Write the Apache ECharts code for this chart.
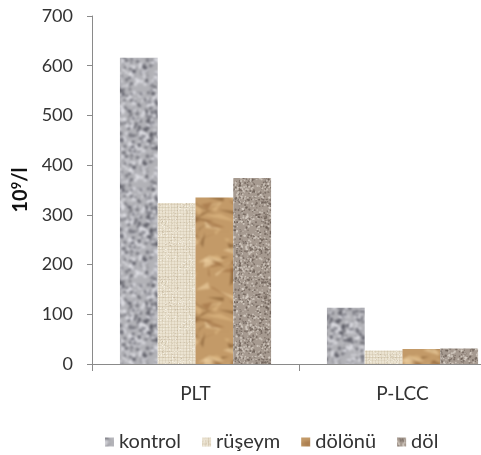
<!DOCTYPE html>
<html>
<head>
<meta charset="utf-8">
<script src="https://cdn.jsdelivr.net/npm/echarts@6/dist/echarts.min.js"></script>
<style>
html,body{margin:0;padding:0;background:#fff;}
#chart{width:481px;height:455px;}
</style>
</head>
<body>
<div id="chart"></div>
<script>
// ---- data ----
const categories = ['PLT', 'P-LCC'];
const seriesNames = ['kontrol', 'rüşeym', 'dölönü', 'döl'];
const kontrol = [616, 113];
const ruseym = [324, 27];
const dolonu = [335, 30];
const dol = [374, 31];
const yMin = 0, yMax = 700, yStep = 100;

// ---- textures (pure styling) ----
function rng(seed){return function(){seed|=0;seed=seed+0x6D2B79F5|0;let t=Math.imul(seed^seed>>>15,1|seed);t=t+Math.imul(t^t>>>7,61|t)^t;return((t^t>>>14)>>>0)/4294967296;};}
function finish(src, blur){
  const out=document.createElement('canvas');out.width=src.width;out.height=src.height;
  const o=out.getContext('2d');
  const big=document.createElement('canvas');big.width=src.width*3;big.height=src.height*3;
  const b=big.getContext('2d');
  for(let i=0;i<3;i++)for(let j=0;j<3;j++)b.drawImage(src,i*src.width,j*src.height);
  const big2=document.createElement('canvas');big2.width=big.width;big2.height=big.height;
  const b2=big2.getContext('2d');b2.filter='blur('+blur+'px)';b2.drawImage(big,0,0);
  o.drawImage(big2,-src.width,-src.height);
  return out;
}
function granite(size, base, dark, light, seed, n, rmin, rmax, blur){
  const c=document.createElement('canvas');c.width=c.height=size;const x=c.getContext('2d');
  x.fillStyle=base;x.fillRect(0,0,size,size);
  const r=rng(seed);
  for(let i=0;i<n;i++){
    const px=r()*size,py=r()*size,rad=r()*(rmax-rmin)+rmin;
    x.fillStyle=r()<0.5?dark:light;
    for(let dx=-1;dx<=1;dx++)for(let dy=-1;dy<=1;dy++){x.beginPath();x.arc(px+dx*size,py+dy*size,rad,0,Math.PI*2);x.fill();}
  }
  return finish(c, blur);
}
function burlap(){
  const size=60;const c=document.createElement('canvas');c.width=c.height=size;const x=c.getContext('2d');
  x.fillStyle='#ebe3d1';x.fillRect(0,0,size,size);
  const r=rng(7);
  for(let i=0;i<size;i+=3){x.fillStyle='rgba(175,158,125,'+(0.12+r()*0.15)+')';x.fillRect(i,0,1,size);x.fillRect(0,i,size,1);}
  for(let i=0;i<400;i++){x.fillStyle=r()<0.5?'rgba(252,249,240,0.6)':'rgba(165,145,115,0.25)';x.fillRect(Math.floor(r()*size),Math.floor(r()*size),1,1);}
  return finish(c,0.5);
}
function paper(){
  const size=100;const c=document.createElement('canvas');c.width=c.height=size;const x=c.getContext('2d');
  x.fillStyle='#c39a68';x.fillRect(0,0,size,size);
  const r=rng(11);
  const shades=['rgba(110,70,30,0.5)','rgba(240,212,165,0.6)','rgba(150,100,55,0.5)','rgba(225,190,135,0.55)','rgba(95,60,25,0.4)'];
  for(let i=0;i<110;i++){
    const cx=r()*size,cy=r()*size;x.fillStyle=shades[Math.floor(r()*shades.length)];
    const p1=[(r()-0.5)*36,(r()-0.5)*22],p2=[(r()-0.5)*36,(r()-0.5)*22];
    for(let dx=-1;dx<=1;dx++)for(let dy=-1;dy<=1;dy++){
      const ox=cx+dx*size,oy=cy+dy*size;
      x.beginPath();x.moveTo(ox,oy);x.lineTo(ox+p1[0],oy+p1[1]);x.lineTo(ox+p2[0],oy+p2[1]);x.closePath();x.fill();
    }
  }
  return finish(c,1.0);
}
const texKontrol = granite(96,'#b2b2b7','rgba(85,85,95,0.6)','rgba(228,228,233,0.7)',3,900,0.8,2.2,0.8);
const texRuseym = burlap();
const texDolonu = paper();
const texDol = granite(80,'#a69a90','rgba(105,92,84,0.7)','rgba(215,207,198,0.75)',5,1300,0.5,1.2,0.45);
const textures=[texKontrol,texRuseym,texDolonu,texDol];
const values=[kontrol,ruseym,dolonu,dol];

const font='Lato';
const chart=echarts.init(document.getElementById('chart'),null,{renderer:'canvas'});
chart.setOption({
  backgroundColor:'#ffffff',
  animation:false,
  textStyle:{fontFamily:font},
  grid:{left:92,top:16,bottom:91,width:414,containLabel:false,outerBoundsMode:'none'},
  legend:{
    left:100,top:427,itemWidth:9,itemHeight:9,itemGap:21,icon:'rect',
    textStyle:{fontFamily:font,fontSize:20,color:'#333'},
    data:seriesNames
  },
  xAxis:{
    type:'category',data:categories,
    axisLine:{lineStyle:{color:'#8a8a8a',width:1}},
    axisTick:{show:true,length:7,lineStyle:{color:'#8a8a8a'}},
    axisLabel:{fontFamily:font,fontSize:19,color:'#333',margin:20}
  },
  yAxis:{
    type:'value',min:yMin,max:yMax,interval:yStep,
    name:'{a|10}{b|9}{a|/l}',nameLocation:'middle',nameRotate:90,nameGap:54,
    nameTextStyle:{rich:{a:{fontFamily:font,fontSize:20,fontWeight:'bold',color:'#111'},b:{fontFamily:font,fontSize:13,fontWeight:'bold',color:'#111',verticalAlign:'top',padding:[0,0,8,0]}}},
    axisLine:{show:true,lineStyle:{color:'#8a8a8a',width:1}},
    axisTick:{show:true,length:5,lineStyle:{color:'#8a8a8a'}},
    splitLine:{show:false},
    axisLabel:{fontFamily:font,fontSize:18,color:'#333',margin:19}
  },
  series:seriesNames.map((n,i)=>({
    name:n,type:'bar',data:values[i],barGap:'0%',barCategoryGap:'27%',
    itemStyle:{color:{image:textures[i],repeat:'repeat'}}
  }))
});
</script>
</body>
</html>
